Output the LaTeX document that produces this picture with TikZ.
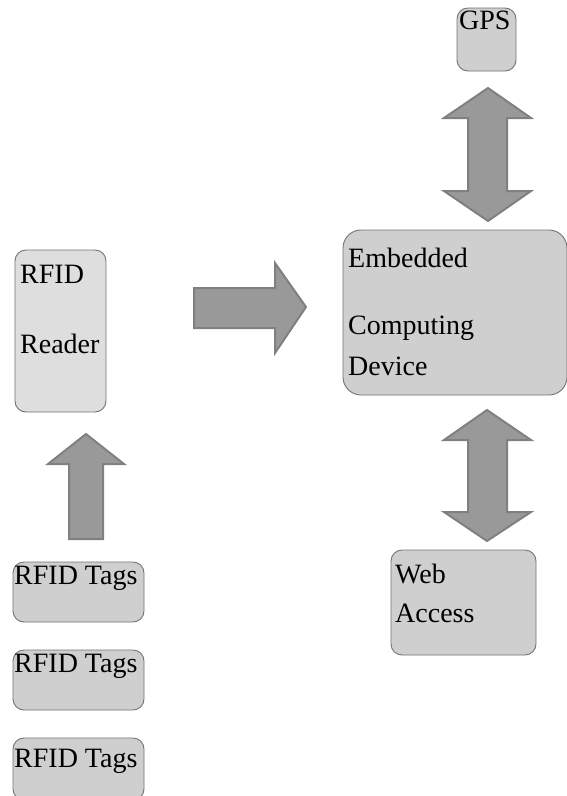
\documentclass[tikz,border=0pt]{standalone}
\usepackage{fontspec}
\setmainfont{Liberation Serif}
\newfontfamily\tnr{Liberation Serif}
\begin{document}
\begin{tikzpicture}[x=1pt,y=-1pt,
  box/.style={draw=black!55,line width=0.9pt,fill=black!19,rounded corners=11pt},
  lbl/.style={anchor=base west,inner sep=0pt,font=\tnr\fontsize{28}{30}\selectfont},
  blk/.style={draw=black!50,line width=2pt,fill=black!40,line join=miter}]
\useasboundingbox (0,0) rectangle (567,796);
% boxes
\draw[box,fill=black!13] (15,250) rectangle (106,412);
\draw[box] (457,8) rectangle (516,71);
\draw[box,rounded corners=18pt] (343,230) rectangle (567,395);
\draw[box] (391,550) rectangle (536,655);
\draw[box] (13,562) rectangle (144,622);
\draw[box] (13,650) rectangle (144,710);
\draw[box] (13,738) rectangle (144,800);
% labels
\node[lbl] (t1) at (20,283) {RFID};
\node[lbl] (t2) at (20,353) {Reader};
\node[lbl] (t3) at (459,29) {GPS};
\node[lbl] (t4) at (348,267) {Embedded};
\node[lbl] (t5) at (348,334) {Computing};
\node[lbl] (t6) at (348,375) {Device};
\node[lbl] (t7) at (395,583) {Web};
\node[lbl] (t8) at (395,622) {Access};
\node[lbl] (t9) at (14,584) {RFID Tags};
\node[lbl] (t10) at (14,672) {RFID Tags};
\node[lbl] (t11) at (14,767) {RFID Tags};
% block arrows
\draw[blk] (194,288) -- (275,288) -- (275,263) -- (306,307) -- (275,353) -- (275,328) -- (194,328) -- cycle;
\draw[blk] (69,539) -- (69,464) -- (48,464) -- (86,434) -- (124,464) -- (103,464) -- (103,539) -- cycle;
\draw[blk] (488,88) -- (531,118) -- (507,118) -- (507,191) -- (531,191) -- (488,221) -- (444,191) -- (468,191) -- (468,118) -- (444,118) -- cycle;
\draw[blk] (487,410) -- (531,440) -- (507,440) -- (507,512) -- (531,512) -- (487,541) -- (444,512) -- (468,512) -- (468,440) -- (444,440) -- cycle;
\end{tikzpicture}
\end{document}
